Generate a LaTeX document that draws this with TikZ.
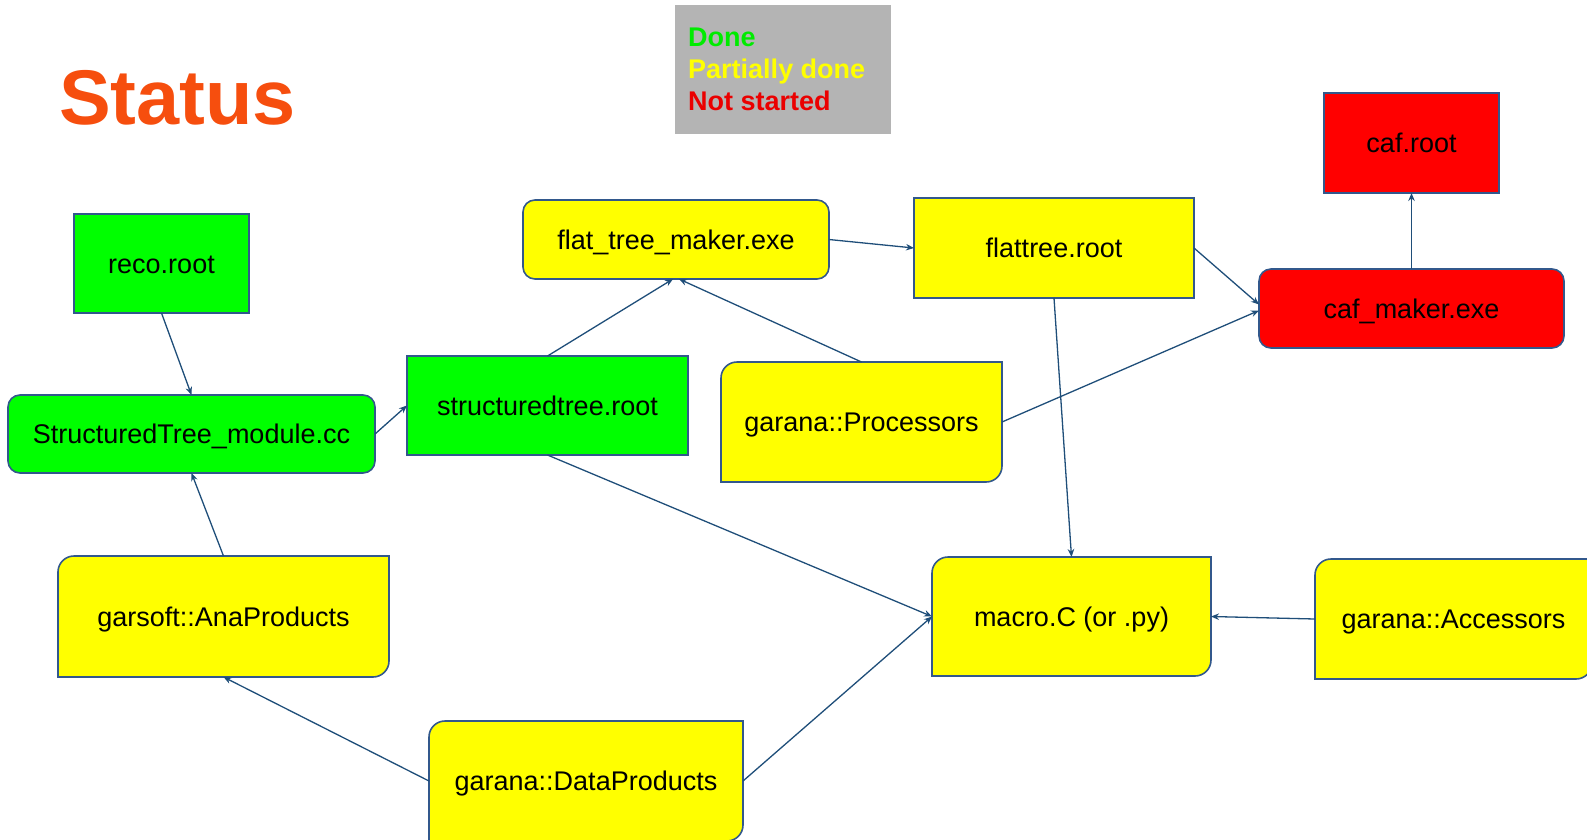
\documentclass[tikz,border=0pt]{standalone}
\usepackage{fontspec}
\setmainfont{Liberation Sans}
\usetikzlibrary{arrows.meta,backgrounds}
\definecolor{statusorange}{RGB}{246,78,14}
\definecolor{legendgray}{RGB}{180,180,180}
\definecolor{ldone}{RGB}{0,235,0}
\definecolor{lpart}{RGB}{255,255,0}
\definecolor{lnot}{RGB}{235,0,0}
\definecolor{gfill}{RGB}{0,255,0}
\definecolor{yfill}{RGB}{255,255,0}
\definecolor{rfill}{RGB}{255,0,0}
\definecolor{edgeblue}{RGB}{50,88,140}
\definecolor{arrowblue}{RGB}{31,78,121}
\tikzset{
  txt/.style={font=\fontsize{27}{32}\selectfont, text=black, inner sep=0pt,
              text height=19.5pt, text depth=0pt},
  rectbox/.style={txt, draw=edgeblue, line width=1.6pt, outer sep=0pt},
  roundbox/.style={rectbox, rounded corners=12pt},
  diagbox/.style={txt, draw=none, outer sep=0pt},
  shapeline/.style={draw=edgeblue, line width=1.6pt},
  conn/.style={draw=arrowblue, line width=1.3pt, -{Stealth[length=8pt,width=6.5pt]}},
}
\newcommand\diagshape[2]{%
  \path[shapeline, fill=#2] ([xshift=16pt]#1.north west) -- (#1.north east)
    -- ([yshift=16pt]#1.south east) arc[start angle=0,end angle=-90,radius=16pt]
    -- (#1.south west) -- ([yshift=-16pt]#1.north west)
    arc[start angle=180,end angle=90,radius=16pt] -- cycle;}
\begin{document}
\begin{tikzpicture}[x=1pt,y=-1pt]
\clip (0,0) rectangle (1587,839);

% title
\node[inner sep=0pt, anchor=base west, text=statusorange,
      font=\fontsize{77.5}{80}\selectfont\bfseries] (title) at (59,124) {Status};

% legend
\node[fill=legendgray, minimum width=216pt, minimum height=129pt, inner sep=0pt]
  (legend) at (783,69.5) {};
\node[inner sep=0pt, anchor=base west, font=\fontsize{27}{32}\selectfont\bfseries,
      text=ldone] (leg1) at (688,46) {Done};
\node[inner sep=0pt, anchor=base west, font=\fontsize{27}{32}\selectfont\bfseries,
      text=lpart] (leg2) at (688,78) {Partially done};
\node[inner sep=0pt, anchor=base west, font=\fontsize{27}{32}\selectfont\bfseries,
      text=lnot] (leg3) at (688,110) {Not started};

% green
\node[rectbox, fill=gfill, minimum width=175pt, minimum height=99pt]
  (reco) at (161.5,263.5) {reco.root};
\node[roundbox, fill=gfill, minimum width=367pt, minimum height=78pt]
  (stm) at (191.5,434) {StructuredTree\_module.cc};
\node[rectbox, fill=gfill, minimum width=281pt, minimum height=99pt]
  (str) at (547.5,405.5) {structuredtree.root};

% yellow
\node[roundbox, fill=yfill, minimum width=306pt, minimum height=79pt]
  (ftm) at (676,239.5) {flat\_tree\_maker.exe};
\node[rectbox, fill=yfill, minimum width=280pt, minimum height=100pt]
  (flat) at (1054,248) {flattree.root};
\node[diagbox, minimum width=281pt, minimum height=120pt]
  (proc) at (861.5,422) {garana::Processors};
\node[diagbox, minimum width=331pt, minimum height=121pt]
  (ana) at (223.5,616.5) {garsoft::AnaProducts};
\node[diagbox, minimum width=279pt, minimum height=119pt]
  (macro) at (1071.5,616.5) {macro.C (or .py)};
\node[diagbox, minimum width=277pt, minimum height=120pt]
  (acc) at (1453.5,619) {garana::Accessors};
\node[diagbox, minimum width=314pt, minimum height=120pt]
  (dp) at (586,781) {garana::DataProducts};

% red
\node[rectbox, fill=rfill, minimum width=175pt, minimum height=100pt]
  (caf) at (1411.5,143) {caf.root};
\node[roundbox, fill=rfill, minimum width=305pt, minimum height=79pt]
  (cafm) at (1411.5,308.5) {caf\_maker.exe};

\begin{scope}[on background layer]
  \diagshape{proc}{yfill}
  \diagshape{ana}{yfill}
  \diagshape{macro}{yfill}
  \diagshape{acc}{yfill}
  \diagshape{dp}{yfill}
\end{scope}

% connectors
\draw[conn] (reco.south) -- (stm.north);
\draw[conn] (stm.east) -- (str.west);
\draw[conn] (str.north) -- ([xshift=-3pt]ftm.south);
\draw[conn] (proc.north) -- ([xshift=3pt]ftm.south);
\draw[conn] (ftm.east) -- (flat.west);
\draw[conn] (flat.east) -- ([yshift=4pt]cafm.west);
\draw[conn] (proc.east) -- ([yshift=-2pt]cafm.west);
\draw[conn] (cafm.north) -- (caf.south);
\draw[conn] (flat.south) -- (macro.north);
\draw[conn] (str.south) -- (macro.west);
\draw[conn] (dp.east) -- (macro.west);
\draw[conn] (dp.west) -- (ana.south);
\draw[conn] (ana.north) -- (stm.south);
\draw[conn] (acc.west) -- (macro.east);
\end{tikzpicture}
\end{document}
